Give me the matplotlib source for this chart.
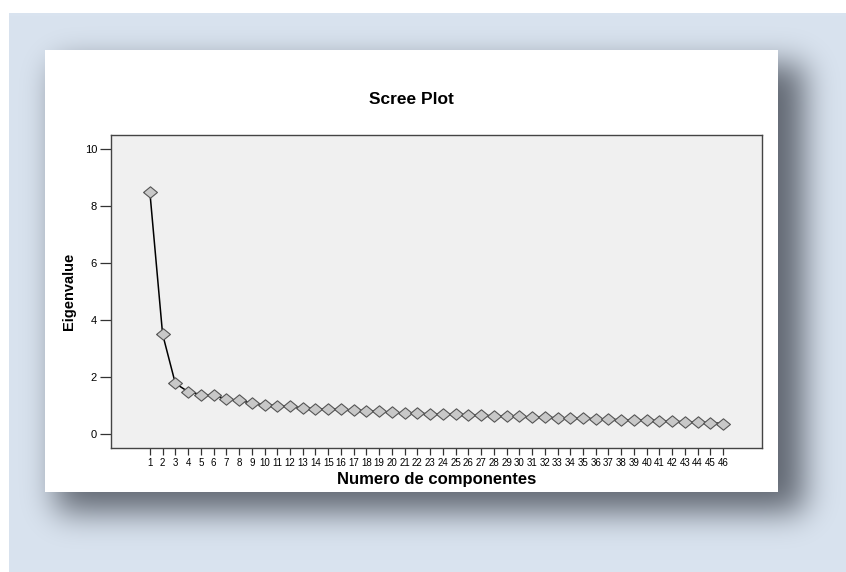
import matplotlib
import numpy as np

matplotlib.use("Agg")
import matplotlib.pyplot as plt

# eigenvalues
components = list(range(1, 47))
eigenvalues = [
    8.50, 3.50, 1.77, 1.48, 1.38, 1.35, 1.23, 1.17, 1.08, 1.02,
    0.99, 0.96, 0.91, 0.88, 0.87, 0.86, 0.82, 0.81, 0.80, 0.75,
    0.73, 0.72, 0.70, 0.69, 0.68, 0.66, 0.65, 0.63, 0.62, 0.61,
    0.59, 0.58, 0.56, 0.55, 0.54, 0.53, 0.51, 0.49, 0.49, 0.48,
    0.46, 0.44, 0.42, 0.41, 0.39, 0.36,
]
y_ticks = [0, 2, 4, 6, 8, 10]

W, H = 846, 572
plt.rcParams["font.family"] = ["Liberation Sans", "DejaVu Sans"]


def blur(img, sigma):
    """Separable gaussian blur with numpy only."""
    r = int(3 * sigma)
    k = np.exp(-0.5 * (np.arange(-r, r + 1) / sigma) ** 2)
    k /= k.sum()
    pad = np.pad(img, r, mode="edge")
    tmp = np.apply_along_axis(lambda v: np.convolve(v, k, mode="valid"), 1, pad)
    return np.apply_along_axis(lambda v: np.convolve(v, k, mode="valid"), 0, tmp)


# background: pale blue panel, drop shadow, white card
bg = np.ones((H, W, 3))
bg[13:, 9:] = np.array([217, 227, 239]) / 255.0
mask = np.zeros((H, W))
mask[64:512, 56:804] = 1.0
mask = blur(mask, 16) * 0.72
shadow_col = np.array([50, 55, 65]) / 255.0
bg = bg * (1 - mask[..., None]) + shadow_col * mask[..., None]
bg[13:, :9] = 1.0
bg[:13, :] = 1.0
bg[50:492, 45:778] = 1.0

fig = plt.figure(figsize=(W / 100, H / 100), dpi=100)
back = fig.add_axes([0, 0, 1, 1])
back.imshow(bg, aspect="auto", interpolation="bilinear")
back.axis("off")

# slightly flattened diamond, like the SPSS marker
diamond = [(-1, 0), (0, 0.82), (1, 0), (0, -0.82), (-1, 0)]

ax = fig.add_axes([111 / W, 1 - 448 / H, 651 / W, 313 / H])
ax.set_facecolor("#f0f0f0")
ax.plot(components, eigenvalues, color="black", lw=1.1, zorder=2,
        marker=diamond, markersize=10, markerfacecolor="#c8c8c8",
        markeredgecolor="#555555", markeredgewidth=0.8)

ax.set_xlim(-2.05, 49.05)
ax.set_ylim(-0.5, 10.5)
ax.set_xticks(components)
ax.set_xticklabels([str(c) for c in components], fontsize=7)
ax.set_yticks(y_ticks)
ax.set_yticklabels([str(v) for v in y_ticks], fontsize=8)
ax.tick_params(axis="x", length=5, width=0.9, pad=2, color="#333333")
ax.tick_params(axis="y", length=8, width=0.9, pad=2, color="#333333")
for s in ax.spines.values():
    s.set_color("#444444")
    s.set_linewidth(1.0)

ax.set_ylabel("Eigenvalue", fontsize=10.5, fontweight="bold", labelpad=6)
ax.set_xlabel("Numero de componentes", fontsize=12, fontweight="bold",
              labelpad=3)
fig.text(411 / W, 1 - 100 / H, "Scree Plot", fontsize=12.5,
         fontweight="bold", ha="center", va="center")

fig.savefig("out.png", dpi=100)
